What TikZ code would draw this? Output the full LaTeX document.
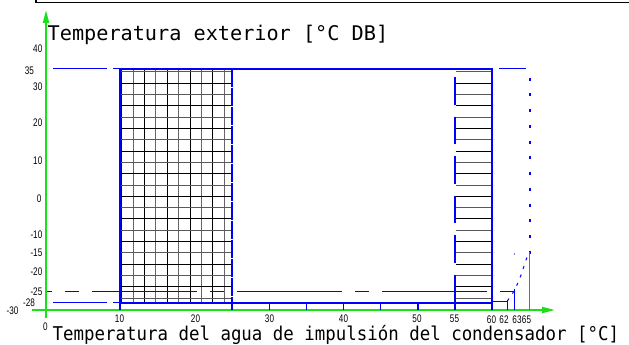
\documentclass[tikz,border=0pt]{standalone}
\usepackage{graphicx}
\usepackage{fontspec}
\newfontfamily\monofont{DejaVu Sans Mono}
\newfontfamily\tickfont{Liberation Sans}
\usetikzlibrary{arrows.meta}
\definecolor{axgreen}{RGB}{25,225,25}
\definecolor{lineblue}{RGB}{0,0,255}
\definecolor{thinblue}{RGB}{90,90,255}
\newcommand{\tk}[1]{\tickfont\fontsize{11}{11}\selectfont\scalebox{0.74}[1]{#1}}
\begin{document}
\begin{tikzpicture}[x=1pt,y=-1pt,
  ticklab/.style={inner sep=0pt, outer sep=0pt},
  ylab/.style={ticklab, anchor=east},
  xlab/.style={ticklab, anchor=center},
  axis/.style={axgreen, line width=2pt, -{Triangle[length=13pt,width=6pt]}},
  gridline/.style={line width=1pt},
  boxline/.style={lineblue, line width=2pt},
  thinline/.style={lineblue, line width=1.2pt},
  hatchedge/.style={lineblue, line width=2pt},
]
\useasboundingbox (0,0) rectangle (629,345);

% top frame
\draw[black, line width=1.3pt] (36,-3) -- (36,2.3) -- (632,2.3);

% grid (x = 10..25)
\foreach \i in {0,...,9} {
  \ifodd\i \def\gc{black!60}\else\def\gc{black}\fi
  \draw[gridline, \gc] ({121.7+11.4*\i},69.5) -- ({121.7+11.4*\i},302.5);
}
\foreach \k in {0,...,20} {
  \ifodd\k \def\gc{black}\else\def\gc{black!65}\fi
  \draw[gridline, \gc] (121,{71.7+11.33*\k}) -- (231.5,{71.7+11.33*\k});
  \draw[gridline, \gc] (455.5,{71.7+11.33*\k}) -- (491.5,{71.7+11.33*\k});
}

% green axes
\draw[axis] (46,318) -- (46,10);
\draw[axis] (32,310) -- (555,310);

% y = 35 line
\draw[thinline] (53,68.6) -- (107,68.6);
\draw[thinline] (113,68.6) -- (492,68.6);
\draw[thinline] (499,68.6) -- (526,68.6);

% main box
\draw[boxline] (120.4,310) -- (120.4,68.8) -- (492.4,68.8) -- (492.4,310);
\draw[boxline] (120.4,303) -- (492.4,303);

% y = -28 line
\draw[thinline] (53,302.6) -- (107,302.6);
\draw[thinline] (113,302.6) -- (120,302.6);
\draw[lineblue, line width=1pt] (492,301.8) -- (507,301.8);

% y = -25 dashed line
\draw[thinline, dash pattern=on 105pt off 13pt on 14pt off 13pt, dash phase=100pt] (47,291.6) -- (514,291.6);

% right edge of grid (x = 25)
\draw[lineblue, line width=1.5pt, dash pattern=on 18pt off 1pt] (232,68.8) -- (232,310);

% hatch left edge (x = 55)
\foreach \s in {77,116.6,156.2,195.8,235.4} {
  \draw[hatchedge] (455.2,\s) -- (455.2,{\s+27.5});
}
\draw[hatchedge] (455.2,275) -- (455.2,310);

% ticks on the bottom line
\foreach \x in {269.2,306.4,343.6,380.8,418} {
  \draw[thinline] (\x,303) -- (\x,310);
}
\draw[lineblue, line width=1pt] (507.3,300) -- (507.3,310);
\draw[lineblue, line width=1pt] (514.6,289) -- (514.6,310);

% dotted line x = 65
\draw[lineblue, line width=2pt, dash pattern=on 3pt off 12.75pt] (529.6,77.5) -- (529.6,255);
\draw[thinblue, line width=0.8pt] (529.6,252) -- (529.6,310);

% limit curve
\draw[lineblue, line width=1pt, dash pattern=on 3pt off 6pt]
  plot[smooth] coordinates {(507.3,301) (514.6,290) (521,275) (526,260) (529.6,252)};
\fill[lineblue] (514.4,254) circle (0.6pt);

% axis titles
\node[anchor=base west, inner sep=0pt] (ytitle) at (47.5,40.7)
  {\monofont\fontsize{20.2}{22}\selectfont Temperatura exterior [°C DB]};
\node[anchor=base west, inner sep=0pt] (xtitle) at (52.5,340.3)
  {\scalebox{0.917}[1]{\monofont\fontsize{19}{20}\selectfont Temperatura del agua de impulsión del condensador [°C]}};

% y tick labels
\node[ylab] (y40) at (42.3,49) {\tk{40}};
\node[ylab] (y35) at (34,71) {\tk{35}};
\node[ylab] (y30) at (42.3,87) {\tk{30}};
\node[ylab] (y20) at (42.3,123) {\tk{20}};
\node[ylab] (y10) at (42.3,161) {\tk{10}};
\node[ylab] (y0) at (41.5,199) {\tk{0}};
\node[ylab] (ym10) at (42.3,235) {\tk{-10}};
\node[ylab] (ym15) at (42.3,253) {\tk{-15}};
\node[ylab] (ym20) at (42.3,272) {\tk{-20}};
\node[ylab] (ym25) at (42.3,292) {\tk{-25}};
\node[ylab] (ym28) at (35,303) {\tk{-28}};
\node[ylab] (ym30) at (18.5,311) {\tk{-30}};

% x tick labels
\node[xlab] (x0) at (45.5,327) {\tk{0}};
\node[xlab] (x10) at (119.5,319) {\tk{10}};
\node[xlab] (x20) at (195.5,319) {\tk{20}};
\node[xlab] (x30) at (269.5,319) {\tk{30}};
\node[xlab] (x40) at (343.5,319) {\tk{40}};
\node[xlab] (x50) at (417,319) {\tk{50}};
\node[xlab] (x55) at (454.5,319) {\tk{55}};
\node[xlab] (x60) at (491.5,320) {\tk{60}};
\node[xlab] (x62) at (504,320) {\tk{62}};
\node[xlab] (x63) at (517,320) {\tk{63}};
\node[xlab] (x65) at (526.5,320) {\tk{65}};
\end{tikzpicture}
\end{document}
